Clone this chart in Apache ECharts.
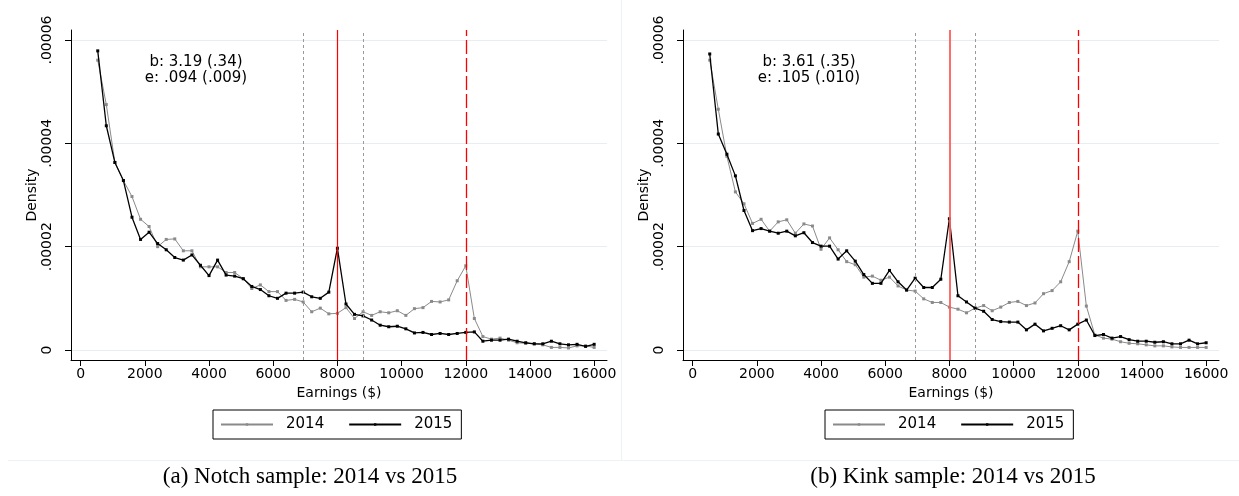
<!DOCTYPE html>
<html>
<head>
<meta charset="utf-8">
<script src="https://cdn.jsdelivr.net/npm/echarts@6/dist/echarts.min.js"></script>
<style>
  html, body { margin: 0; padding: 0; background: #fff; }
  #chart { width: 1239px; height: 496px; }
</style>
</head>
<body>
<div id="chart"></div>
<script>
// Earnings bin midpoints ($)
const earnings = [
  533, 800, 1067, 1333, 1600, 1867, 2133, 2400, 2667, 2933,
  3200, 3467, 3733, 4000, 4267, 4533, 4800, 5067, 5333, 5600,
  5867, 6133, 6400, 6667, 6933, 7200, 7467, 7733, 8000, 8267,
  8533, 8800, 9067, 9333, 9600, 9867, 10133, 10400, 10667, 10933,
  11200, 11467, 11733, 12000, 12267, 12533, 12800, 13067, 13333, 13600,
  13867, 14133, 14400, 14667, 14933, 15200, 15467, 15733, 16000
];

// Notch sample densities
const notch2014 = [
  5.61e-5, 4.75e-5, 3.63e-5, 3.28e-5, 2.97e-5, 2.53e-5, 2.39e-5, 2.00e-5, 2.14e-5, 2.15e-5,
  1.92e-5, 1.92e-5, 1.61e-5, 1.61e-5, 1.61e-5, 1.50e-5, 1.50e-5, 1.38e-5, 1.19e-5, 1.26e-5,
  1.13e-5, 1.13e-5, 0.96e-5, 0.98e-5, 0.93e-5, 0.74e-5, 0.81e-5, 0.70e-5, 0.71e-5, 0.82e-5,
  0.61e-5, 0.74e-5, 0.67e-5, 0.74e-5, 0.72e-5, 0.76e-5, 0.67e-5, 0.80e-5, 0.82e-5, 0.94e-5,
  0.93e-5, 0.97e-5, 1.34e-5, 1.63e-5, 0.61e-5, 0.26e-5, 0.21e-5, 0.23e-5, 0.19e-5, 0.14e-5,
  0.13e-5, 0.12e-5, 0.10e-5, 0.05e-5, 0.05e-5, 0.04e-5, 0.08e-5, 0.08e-5, 0.05e-5
];
const notch2015 = [
  5.79e-5, 4.34e-5, 3.63e-5, 3.28e-5, 2.57e-5, 2.14e-5, 2.28e-5, 2.06e-5, 1.94e-5, 1.79e-5,
  1.74e-5, 1.84e-5, 1.64e-5, 1.44e-5, 1.74e-5, 1.45e-5, 1.43e-5, 1.38e-5, 1.23e-5, 1.17e-5,
  1.05e-5, 1.00e-5, 1.10e-5, 1.10e-5, 1.12e-5, 1.03e-5, 1.00e-5, 1.12e-5, 1.97e-5, 0.89e-5,
  0.69e-5, 0.66e-5, 0.58e-5, 0.48e-5, 0.45e-5, 0.46e-5, 0.41e-5, 0.33e-5, 0.34e-5, 0.30e-5,
  0.32e-5, 0.30e-5, 0.32e-5, 0.34e-5, 0.35e-5, 0.17e-5, 0.19e-5, 0.19e-5, 0.21e-5, 0.17e-5,
  0.14e-5, 0.12e-5, 0.12e-5, 0.17e-5, 0.12e-5, 0.10e-5, 0.11e-5, 0.07e-5, 0.11e-5
];

// Kink sample densities
const kink2014 = [
  5.61e-5, 4.66e-5, 3.75e-5, 3.06e-5, 2.83e-5, 2.45e-5, 2.53e-5, 2.30e-5, 2.48e-5, 2.52e-5,
  2.26e-5, 2.44e-5, 2.40e-5, 1.95e-5, 2.17e-5, 1.94e-5, 1.71e-5, 1.65e-5, 1.41e-5, 1.43e-5,
  1.35e-5, 1.41e-5, 1.24e-5, 1.16e-5, 1.14e-5, 0.99e-5, 0.92e-5, 0.92e-5, 0.83e-5, 0.79e-5,
  0.72e-5, 0.81e-5, 0.86e-5, 0.76e-5, 0.83e-5, 0.92e-5, 0.94e-5, 0.86e-5, 0.91e-5, 1.09e-5,
  1.15e-5, 1.32e-5, 1.71e-5, 2.30e-5, 0.85e-5, 0.29e-5, 0.23e-5, 0.21e-5, 0.16e-5, 0.13e-5,
  0.12e-5, 0.10e-5, 0.08e-5, 0.08e-5, 0.06e-5, 0.05e-5, 0.05e-5, 0.05e-5, 0.05e-5
];
const kink2015 = [
  5.73e-5, 4.18e-5, 3.79e-5, 3.37e-5, 2.70e-5, 2.31e-5, 2.35e-5, 2.30e-5, 2.26e-5, 2.30e-5,
  2.21e-5, 2.27e-5, 2.08e-5, 2.01e-5, 2.01e-5, 1.76e-5, 1.92e-5, 1.72e-5, 1.46e-5, 1.29e-5,
  1.29e-5, 1.54e-5, 1.32e-5, 1.16e-5, 1.39e-5, 1.21e-5, 1.21e-5, 1.37e-5, 2.54e-5, 1.05e-5,
  0.93e-5, 0.81e-5, 0.75e-5, 0.59e-5, 0.55e-5, 0.54e-5, 0.54e-5, 0.39e-5, 0.50e-5, 0.37e-5,
  0.42e-5, 0.47e-5, 0.39e-5, 0.50e-5, 0.58e-5, 0.28e-5, 0.30e-5, 0.23e-5, 0.26e-5, 0.20e-5,
  0.17e-5, 0.17e-5, 0.15e-5, 0.16e-5, 0.12e-5, 0.12e-5, 0.19e-5, 0.12e-5, 0.14e-5
];

// Axis ticks and labels
const xTicks = [0, 2000, 4000, 6000, 8000, 10000, 12000, 14000, 16000];
const yTicks = [0, 0.00002, 0.00004, 0.00006];
const yTickLabels = ['0', '.00002', '.00004', '.00006'];

// Reference thresholds and excluded window
const windowBounds = [6933, 8800];
const notchThreshold = 8000;
const kinkThreshold = 12000;

const seriesNames = ['2014', '2015'];
const notchStats = ['b: 3.19 (.34)', 'e: .094 (.009)'];
const kinkStats = ['b: 3.61 (.35)', 'e: .105 (.010)'];
const captions = ['(a) Notch sample: 2014 vs 2015', '(b) Kink sample: 2014 vs 2015'];

const FONT = 'DejaVu Sans';
const chart = echarts.init(document.getElementById('chart'), null, { renderer: 'canvas' });

const panels = [
  { left: 71, data14: notch2014, data15: notch2015, stats: notchStats, caption: captions[0],
    statsX: 196, captionX: 310, redSolid: '#ff0000', redSolidWidth: 1.2 },
  { left: 683, data14: kink2014, data15: kink2015, stats: kinkStats, caption: captions[1],
    statsX: 809, captionX: 953, redSolid: '#ff5c5c', redSolidWidth: 1.8 }
];
const GRID_W = 536, GRID_TOP = 30, GRID_H = 330;

const grids = [], xAxes = [], yAxes = [], series = [], legends = [], graphics = [];

panels.forEach((p, k) => {
  grids.push({ left: p.left, top: GRID_TOP, width: GRID_W, height: GRID_H, containLabel: false });
  xAxes.push({
    type: 'value', gridIndex: k, min: -300, max: 16400,
    name: 'Earnings ($)', nameLocation: 'middle', nameGap: 25,
    nameTextStyle: { fontFamily: FONT, fontSize: 14, color: '#000' },
    axisLine: { show: true, onZero: false, lineStyle: { color: '#000', width: 1 } },
    axisTick: { show: true, length: 6, lineStyle: { color: '#000' }, customValues: xTicks },
    axisLabel: {
      show: true, fontFamily: FONT, fontSize: 14, color: '#000', margin: 7,
      customValues: xTicks, formatter: v => String(v)
    },
    splitLine: { show: false }
  });
  yAxes.push({
    type: 'value', gridIndex: k, min: -0.0000019355, max: 0.0000619355,
    name: 'Density', nameLocation: 'middle', nameGap: 30, nameRotate: 90,
    nameTextStyle: { fontFamily: FONT, fontSize: 14, color: '#000' },
    axisLine: { show: true, onZero: false, lineStyle: { color: '#000', width: 1 } },
    axisTick: { show: true, length: 6, lineStyle: { color: '#000' }, customValues: yTicks },
    axisLabel: {
      show: true, rotate: 90, fontFamily: FONT, fontSize: 14, color: '#000', margin: 17,
      customValues: yTicks,
      formatter: v => { const i = yTicks.findIndex(t => Math.abs(t - v) < 1e-9); return i >= 0 ? yTickLabels[i] : ''; }
    },
    splitLine: { show: true, lineStyle: { color: '#e6eef1', width: 1 } }
  });

  series.push({
    name: seriesNames[0], type: 'line', xAxisIndex: k, yAxisIndex: k,
    data: earnings.map((x, i) => [x, p.data14[i]]),
    symbol: 'rect', symbolSize: 3, showSymbol: true,
    lineStyle: { color: '#8a8a8a', width: 1 }, itemStyle: { color: '#8a8a8a' },
    z: 3,
    markLine: {
      silent: true, symbol: ['none', 'none'], label: { show: false }, animation: false,
      data: [
        { xAxis: windowBounds[0], lineStyle: { color: '#9a9a9a', type: [3, 3], width: 1 } },
        { xAxis: windowBounds[1], lineStyle: { color: '#9a9a9a', type: [3, 3], width: 1 } },
        { xAxis: notchThreshold, lineStyle: { color: p.redSolid, type: 'solid', width: p.redSolidWidth } },
        { xAxis: kinkThreshold, lineStyle: { color: '#ff0000', type: [14, 4], width: 1.3 } }
      ]
    }
  });
  series.push({
    name: seriesNames[1], type: 'line', xAxisIndex: k, yAxisIndex: k,
    data: earnings.map((x, i) => [x, p.data15[i]]),
    symbol: 'rect', symbolSize: 3, showSymbol: true,
    lineStyle: { color: '#000', width: 1.3 }, itemStyle: { color: '#000' },
    z: 4
  });

  legends.push({
    data: seriesNames, left: p.left + 142, top: 410, orient: 'horizontal',
    itemWidth: 52, itemHeight: 3, itemGap: 24,
    padding: [7, 9, 7, 7], borderColor: '#000', borderWidth: 1, borderRadius: 0,
    textStyle: { fontFamily: FONT, fontSize: 15, color: '#000', padding: [0, 0, 0, 8] },
    selectedMode: false
  });

  graphics.push({
    type: 'text', x: p.statsX, y: 54,
    style: { text: p.stats.join('\n'), font: '15px "DejaVu Sans"', fill: '#000', align: 'center', verticalAlign: 'top', lineHeight: 16 }
  });
  graphics.push({
    type: 'text', x: p.captionX, y: 477,
    style: { text: p.caption, font: '23px "Liberation Serif"', fill: '#000', align: 'center', verticalAlign: 'middle' }
  });
});

// Faint panel frames
graphics.push({ type: 'line', shape: { x1: 621.5, y1: 0, x2: 621.5, y2: 460 }, style: { stroke: '#eef2f4', lineWidth: 1 } });
graphics.push({ type: 'line', shape: { x1: 8, y1: 460.5, x2: 1239, y2: 460.5 }, style: { stroke: '#eef2f4', lineWidth: 1 } });

chart.setOption({
  animation: false,
  backgroundColor: '#fff',
  grid: grids, xAxis: xAxes, yAxis: yAxes, series: series, legend: legends,
  graphic: graphics
});
</script>
</body>
</html>
